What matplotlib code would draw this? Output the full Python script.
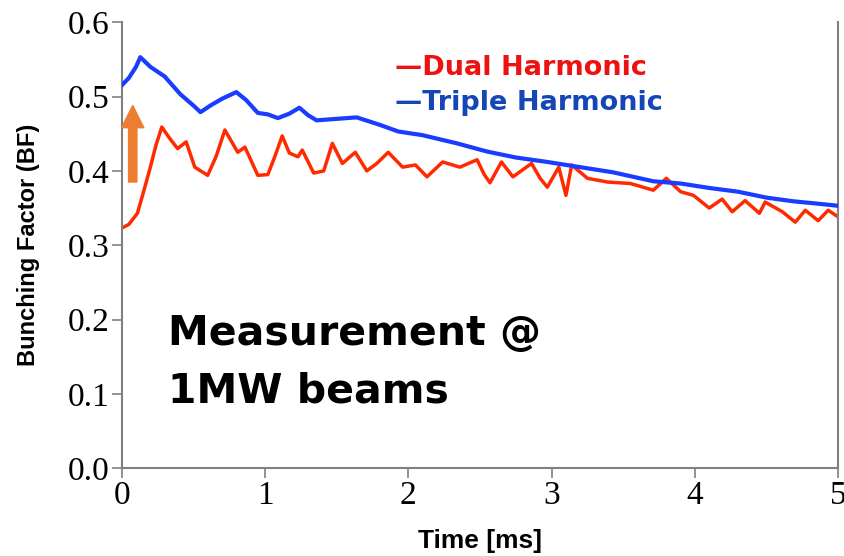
import matplotlib
matplotlib.use("Agg")
import matplotlib.pyplot as plt
import numpy as np

# Bunching factor vs. time
time_triple = [0.0, 0.05, 0.10, 0.13, 0.2, 0.3, 0.41, 0.5, 0.55, 0.62, 0.7, 0.8,
               0.87, 0.95, 1.02, 1.09, 1.17, 1.24, 1.3, 1.36, 1.5, 1.64, 1.8, 1.93,
               2.1, 2.34, 2.55, 2.75, 2.97, 3.2, 3.43, 3.71, 3.9, 4.1, 4.3, 4.5,
               4.69, 4.85, 5.0]
bf_triple = [0.515, 0.525, 0.540, 0.553, 0.540, 0.527, 0.503, 0.488, 0.479, 0.488,
             0.497, 0.506, 0.495, 0.478, 0.476, 0.471, 0.477, 0.485, 0.475, 0.468,
             0.470, 0.472, 0.462, 0.453, 0.448, 0.437, 0.426, 0.418, 0.412, 0.405,
             0.398, 0.386, 0.383, 0.377, 0.372, 0.364, 0.359, 0.356, 0.353]

time_dual = [0.0, 0.05, 0.11, 0.15, 0.2, 0.24, 0.28, 0.33, 0.39, 0.45, 0.51, 0.6,
             0.66, 0.72, 0.81, 0.86, 0.95, 1.02, 1.07, 1.12, 1.17, 1.23, 1.26, 1.34,
             1.41, 1.47, 1.54, 1.63, 1.71, 1.78, 1.86, 1.96, 2.05, 2.13, 2.24, 2.36,
             2.48, 2.53, 2.57, 2.65, 2.73, 2.86, 2.92, 2.97, 3.05, 3.1, 3.14, 3.25,
             3.39, 3.55, 3.71, 3.8, 3.9, 3.99, 4.1, 4.19, 4.26, 4.35, 4.45, 4.49,
             4.61, 4.7, 4.77, 4.86, 4.93, 5.0]
bf_dual = [0.323, 0.328, 0.343, 0.370, 0.405, 0.435, 0.459, 0.445, 0.430, 0.439,
           0.405, 0.394, 0.420, 0.455, 0.425, 0.432, 0.394, 0.395, 0.420, 0.447,
           0.424, 0.419, 0.428, 0.397, 0.400, 0.437, 0.410, 0.425, 0.400, 0.410,
           0.425, 0.405, 0.408, 0.392, 0.412, 0.405, 0.415, 0.395, 0.384, 0.412,
           0.392, 0.410, 0.390, 0.378, 0.405, 0.367, 0.408, 0.390, 0.385, 0.383,
           0.374, 0.390, 0.372, 0.367, 0.350, 0.362, 0.345, 0.360, 0.343, 0.358,
           0.345, 0.331, 0.347, 0.333, 0.347, 0.338]

x_ticks = [0, 1, 2, 3, 4, 5]
y_ticks = [0.0, 0.1, 0.2, 0.3, 0.4, 0.5, 0.6]

bold_sans = ["DejaVu Sans", "Noto Sans CJK JP"]

fig = plt.figure(figsize=(8.45, 5.56), dpi=100)
ax = fig.add_axes([0.144, 0.158, 0.848, 0.802])

ax.plot(time_triple, bf_triple, color="#1a3cff", lw=3.0, zorder=3)
ax.plot(time_dual, bf_dual, color="#ff2a00", lw=2.5, zorder=2)

ax.set_xlim(0, 5)
ax.set_ylim(0, 0.6)
ax.set_xticks(x_ticks)
ax.set_yticks(y_ticks)
ax.set_xticklabels([str(v) for v in x_ticks], family="Liberation Serif", fontsize=24)
ax.set_yticklabels([f"{v:.1f}" for v in y_ticks], family="Liberation Serif", fontsize=24)
ax.tick_params(direction="out", length=7, width=1.2, color="#808080", pad=2)

for side in ["left", "bottom", "right"]:
    ax.spines[side].set_color("#808080")
    ax.spines[side].set_linewidth(1.5)
ax.spines["top"].set_visible(False)

ax.set_xlabel("Time [ms]", family="Liberation Sans", fontweight="bold",
              fontsize=19, labelpad=13)
ax.set_ylabel("Bunching Factor (BF)", family="Liberation Sans", fontweight="bold",
              fontsize=17, labelpad=20)

# legend drawn as coloured text
ax.text(0.381, 0.897, "—Dual Harmonic", transform=ax.transAxes, color="#ee1111",
        family=bold_sans, fontweight="bold", fontsize=19.5, va="center", ha="left")
ax.text(0.381, 0.818, "—Triple Harmonic", transform=ax.transAxes, color="#1446b8",
        family=bold_sans, fontweight="bold", fontsize=19.5, va="center", ha="left")

ax.text(0.064, 0.276, "Measurement @", transform=ax.transAxes, color="black",
        family=bold_sans, fontweight="bold", fontsize=29.5, va="baseline", ha="left")
ax.text(0.064, 0.148, "1MW beams", transform=ax.transAxes, color="black",
        family=bold_sans, fontweight="bold", fontsize=29.5, va="baseline", ha="left")

# BF jump at injection
ax.annotate("", xy=(0.077, 0.488), xytext=(0.077, 0.385),
            arrowprops=dict(arrowstyle="simple,head_width=0.8,head_length=0.8,tail_width=0.3",
                            color="#ed7d31", mutation_scale=20, shrinkA=0, shrinkB=0))

fig.savefig("out.png", dpi=100)
